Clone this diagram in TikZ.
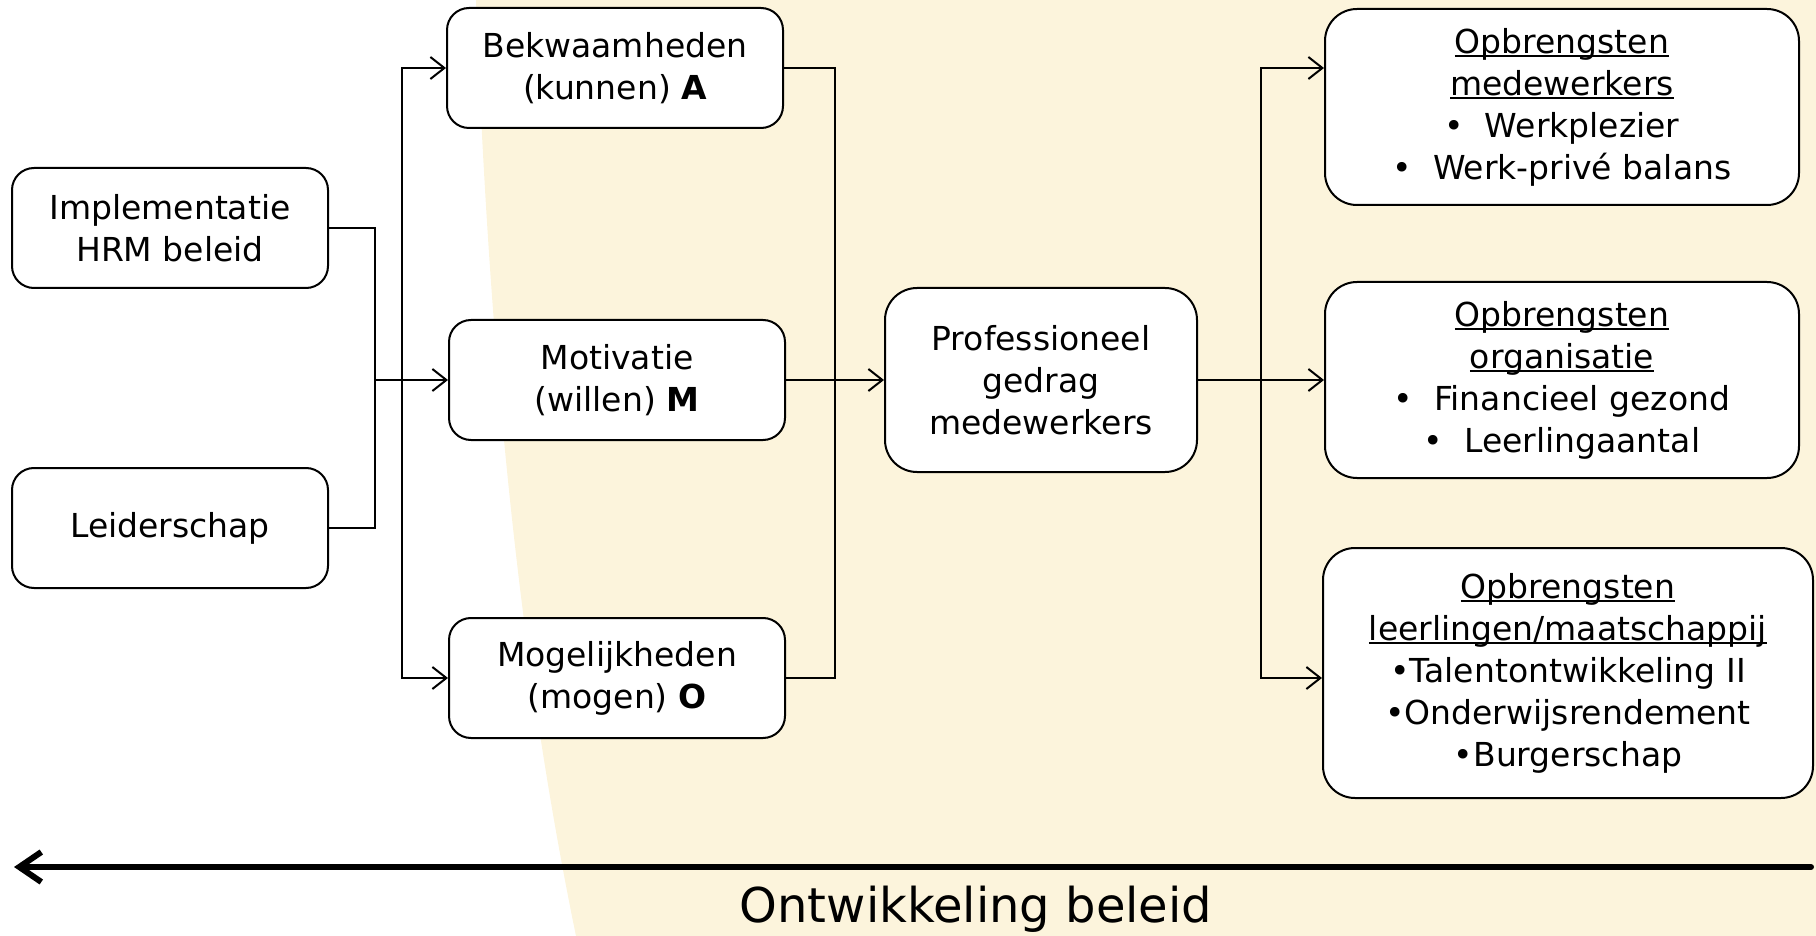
\documentclass[tikz,border=0pt]{standalone}
\usepackage{fontspec}
\setmainfont{DejaVu Sans}
\usetikzlibrary{arrows.meta, positioning}
\definecolor{cream}{RGB}{252,244,220}
\newcommand{\onderstreep}[1]{\setbox0\hbox{#1}\rlap{\rule[-1.8pt]{\wd0}{0.7pt}}\box0}

\tikzset{
  box/.style = {draw, rounded corners=11pt, line width=1pt, fill=white, align=center, inner sep=0pt},
  bigbox/.style = {box, rounded corners=16pt},
  bigarrow/.style = {line width=3pt, line cap=round, {Straight Barb[length=11pt,width=15pt]}-}
}

\begin{document}
\begin{tikzpicture}[x=0.5pt, y=-0.5pt, >={Straight Barb[length=7pt,width=11pt]}, line width=1pt,
  font=\fontsize{16.5}{21}\selectfont]
\useasboundingbox (0,0) rectangle (1816,936);
% achtergrond
\fill[cream] (476,0) .. controls (488,320) and (515,640) .. (576,936) -- (1816,936) -- (1816,0) -- cycle;

\node[box, minimum width=158pt, minimum height=60pt](impl) at (170,228) {Implementatie\\HRM beleid};
\node[box, minimum width=158pt, minimum height=60pt](leider) at (170,528) {Leiderschap};
\node[box, minimum width=168pt, minimum height=60pt](bekw) at (615,68) {Bekwaamheden\\(kunnen) \textbf{A}};
\node[box, minimum width=168pt, minimum height=60pt](motiv) at (617,380) {Motivatie\\(willen) \textbf{M}};
\node[box, minimum width=168pt, minimum height=60pt](mogel) at (617,678) {Mogelijkheden\\(mogen) \textbf{O}};
\node[bigbox, minimum width=156pt, minimum height=92pt](prof) at (1041,380) {Professioneel\\gedrag\\medewerkers};
\node[bigbox, minimum width=237pt, minimum height=98pt](opbmw) at (1562,107) {\onderstreep{Opbrengsten}\\\onderstreep{medewerkers}\\• \ Werkplezier\\• \ Werk-privé balans};
\node[bigbox, minimum width=237pt, minimum height=98pt](opborg) at (1562,380) {\onderstreep{Opbrengsten}\\\onderstreep{organisatie}\\• \ Financieel gezond\\• \ Leerlingaantal};
\node[bigbox, minimum width=245pt, minimum height=125pt](opbll) at (1568,673) {\onderstreep{Opbrengsten}\\\onderstreep{leerlingen/maatschappij}\\•Talentontwikkeling II\\•Onderwijsrendement\\•Burgerschap};

\coordinate (j1) at (375,380);
\coordinate (j2) at (402,380);
\coordinate (j3) at (835,380);
\coordinate (j4) at (1261,380);

\draw (impl.east) -| (j1) |- (leider.east);
\draw[->] (j1) -- (motiv.west);
\draw[->] (j2) |- (bekw.west);
\draw[->] (j2) |- (mogel.west);
\draw (bekw.east) -| (j3) |- (mogel.east);
\draw[->] (motiv.east) -- (prof.west);
\draw[->] (prof.east) -- (opborg.west);
\draw[->] (j4) |- (opbmw.west |- bekw.east);
\draw[->] (j4) |- (opbll.west |- mogel.east);

% beleid
\coordinate (lend) at (14,867);
\coordinate (rend) at (1811,867);
\draw[bigarrow] (lend) -- (rend);
\node[font=\fontsize{24}{28}\selectfont](title) at (976,909) {Ontwikkeling beleid};
\end{tikzpicture}
\end{document}
